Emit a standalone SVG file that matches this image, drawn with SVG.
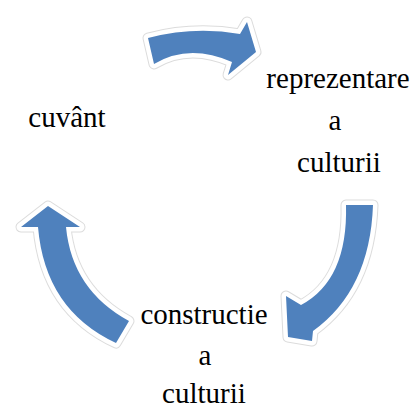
<svg xmlns="http://www.w3.org/2000/svg" xmlns:xlink="http://www.w3.org/1999/xlink" width="416" height="410" viewBox="0 0 416 410">
  <style>
    .lbl { font-family: "Liberation Serif", "Times New Roman", serif; font-size: 29px; fill: #000; text-anchor: middle; }
    .halo1 { fill: none; stroke: #dcdcdc; stroke-width: 11; stroke-linejoin: round; }
    .halo2 { fill: #fff; stroke: #fff; stroke-width: 9; stroke-linejoin: round; }
    .arrow { fill: #4F81BD; stroke: none; }
  </style>
  <defs>
    <path id="arrTop" d="M148,38 Q194,26 240,34 L247,22 L256,52 L228,75 L232,62 Q189,43 154,64 Z"/>
    <path id="arrRight" d="M346,205 L373,205 Q370,290 313,331 L312,341 L288,337 L286,296 L301,305 Q348,280 346,205 Z"/>
    <path id="arrLeft" d="M129,321 Q72,290 66,227 L80,227 L48,206 L21,227 L38,227 Q45,310 116,343 Z"/>
  </defs>
  <rect width="416" height="410" fill="#fff"/>
  <g id="connectors">
    <g id="arrow-top">
      <use xlink:href="#arrTop" class="halo1"/>
      <use xlink:href="#arrTop" class="halo2"/>
      <use xlink:href="#arrTop" class="arrow"/>
    </g>
    <g id="arrow-right">
      <use xlink:href="#arrRight" class="halo1"/>
      <use xlink:href="#arrRight" class="halo2"/>
      <use xlink:href="#arrRight" class="arrow"/>
    </g>
    <g id="arrow-left">
      <use xlink:href="#arrLeft" class="halo1"/>
      <use xlink:href="#arrLeft" class="halo2"/>
      <use xlink:href="#arrLeft" class="arrow"/>
    </g>
  </g>
  <g id="node-cuvant">
    <text class="lbl" x="67" y="127">cuvânt</text>
  </g>
  <g id="node-reprezentare">
    <text class="lbl" x="338" y="88">reprezentare</text>
    <text class="lbl" x="335" y="130">a</text>
    <text class="lbl" x="339" y="172">culturii</text>
  </g>
  <g id="node-constructie">
    <text class="lbl" x="204" y="324">constructie</text>
    <text class="lbl" x="205" y="365">a</text>
    <text class="lbl" x="204" y="403">culturii</text>
  </g>
</svg>
